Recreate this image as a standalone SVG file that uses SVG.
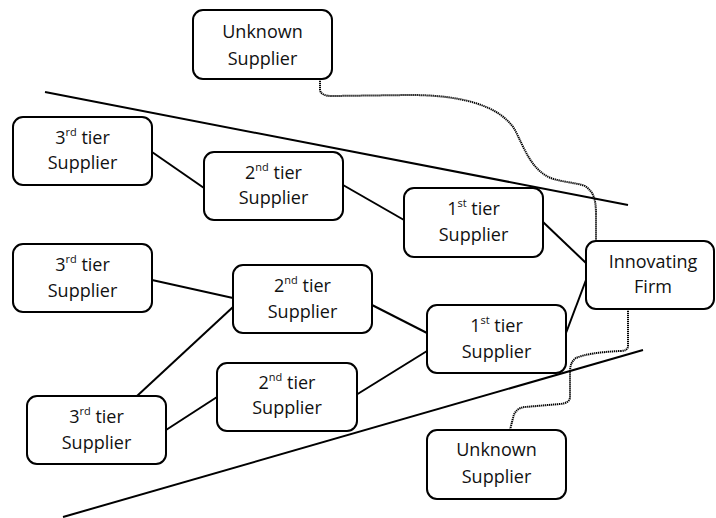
<svg xmlns="http://www.w3.org/2000/svg" width="716" height="518" viewBox="0 0 716 518">
<style>
.box{fill:#fff;stroke:#000;stroke-width:2}
.t{font-family:"Open Sans","Liberation Sans",sans-serif;font-size:18px;fill:#111;text-anchor:middle}
.sup{font-size:11px}
.ln{stroke:#000;stroke-width:2;fill:none}
.dot{stroke:#000;stroke-width:2;fill:none;stroke-dasharray:1.3 0.7}
</style>
<rect width="716" height="518" fill="#fff"/>
<g id="connectors">
<line class="ln" x1="45" y1="92" x2="628" y2="205"/>
<line class="ln" x1="63" y1="517" x2="643" y2="350"/>
<line class="ln" x1="152" y1="152" x2="204" y2="188"/>
<line class="ln" x1="343" y1="185" x2="404" y2="220"/>
<line class="ln" x1="543" y1="222" x2="586" y2="263"/>
<line class="ln" x1="152" y1="280" x2="233" y2="298"/>
<line class="ln" x1="137" y1="396" x2="233" y2="307"/>
<line class="ln" x1="166" y1="430" x2="217" y2="397"/>
<line class="ln" x1="372" y1="305" x2="427" y2="333"/>
<line class="ln" x1="356" y1="395" x2="427" y2="351"/>
<line class="ln" x1="566" y1="333" x2="586" y2="280"/>
<path class="dot" d="M320,79 V90 Q321,96 332,96 L410,95 C460,95 500,105 515,130 C525,150 530,165 545,175 C555,182 575,182 585,186 C594,192 596,200 596,215 V241"/>
<path class="dot" d="M628,309 V346 Q628,351 620,351 C600,352 585,354 576,358 Q570,362 570,372 V397 Q570,403 560,404 L525,407 Q515,408 513,418 L510,430"/>
</g>
<g id="unknown-top">
<rect class="box" x="193" y="10" width="139" height="69" rx="10"/>
<text class="t" x="262.5" y="38">Unknown</text>
<text class="t" x="262.5" y="65">Supplier</text>
</g>
<g id="tier3-a">
<rect class="box" x="13" y="117" width="139" height="68" rx="10"/>
<text class="t" x="82.5" y="144">3<tspan class="sup" dy="-8">rd</tspan><tspan dy="8"> tier</tspan></text>
<text class="t" x="82.5" y="169">Supplier</text>
</g>
<g id="tier2-a">
<rect class="box" x="204" y="152" width="139" height="68" rx="10"/>
<text class="t" x="273.5" y="179">2<tspan class="sup" dy="-8">nd</tspan><tspan dy="8"> tier</tspan></text>
<text class="t" x="273.5" y="204">Supplier</text>
</g>
<g id="tier1-a">
<rect class="box" x="404" y="188" width="139" height="69" rx="10"/>
<text class="t" x="473.5" y="215">1<tspan class="sup" dy="-8">st</tspan><tspan dy="8"> tier</tspan></text>
<text class="t" x="473.5" y="241">Supplier</text>
</g>
<g id="innovating-firm">
<rect class="box" x="586" y="241" width="128" height="68" rx="10"/>
<text class="t" x="653" y="268">Innovating</text>
<text class="t" x="653" y="293">Firm</text>
</g>
<g id="tier3-b">
<rect class="box" x="13" y="244" width="139" height="68" rx="10"/>
<text class="t" x="82.5" y="271">3<tspan class="sup" dy="-8">rd</tspan><tspan dy="8"> tier</tspan></text>
<text class="t" x="82.5" y="297">Supplier</text>
</g>
<g id="tier2-b">
<rect class="box" x="233" y="265" width="139" height="68" rx="10"/>
<text class="t" x="302.5" y="292">2<tspan class="sup" dy="-8">nd</tspan><tspan dy="8"> tier</tspan></text>
<text class="t" x="302.5" y="318">Supplier</text>
</g>
<g id="tier1-b">
<rect class="box" x="427" y="305" width="139" height="68" rx="10"/>
<text class="t" x="496.5" y="332">1<tspan class="sup" dy="-8">st</tspan><tspan dy="8"> tier</tspan></text>
<text class="t" x="496.5" y="358">Supplier</text>
</g>
<g id="tier2-c">
<rect class="box" x="217" y="363" width="140" height="68" rx="10"/>
<text class="t" x="287" y="389">2<tspan class="sup" dy="-8">nd</tspan><tspan dy="8"> tier</tspan></text>
<text class="t" x="287" y="414">Supplier</text>
</g>
<g id="tier3-c">
<rect class="box" x="27" y="396" width="139" height="68" rx="10"/>
<text class="t" x="96.5" y="423">3<tspan class="sup" dy="-8">rd</tspan><tspan dy="8"> tier</tspan></text>
<text class="t" x="96.5" y="449">Supplier</text>
</g>
<g id="unknown-bottom">
<rect class="box" x="427" y="430" width="139" height="69" rx="10"/>
<text class="t" x="496.5" y="456">Unknown</text>
<text class="t" x="496.5" y="483">Supplier</text>
</g>
</svg>
